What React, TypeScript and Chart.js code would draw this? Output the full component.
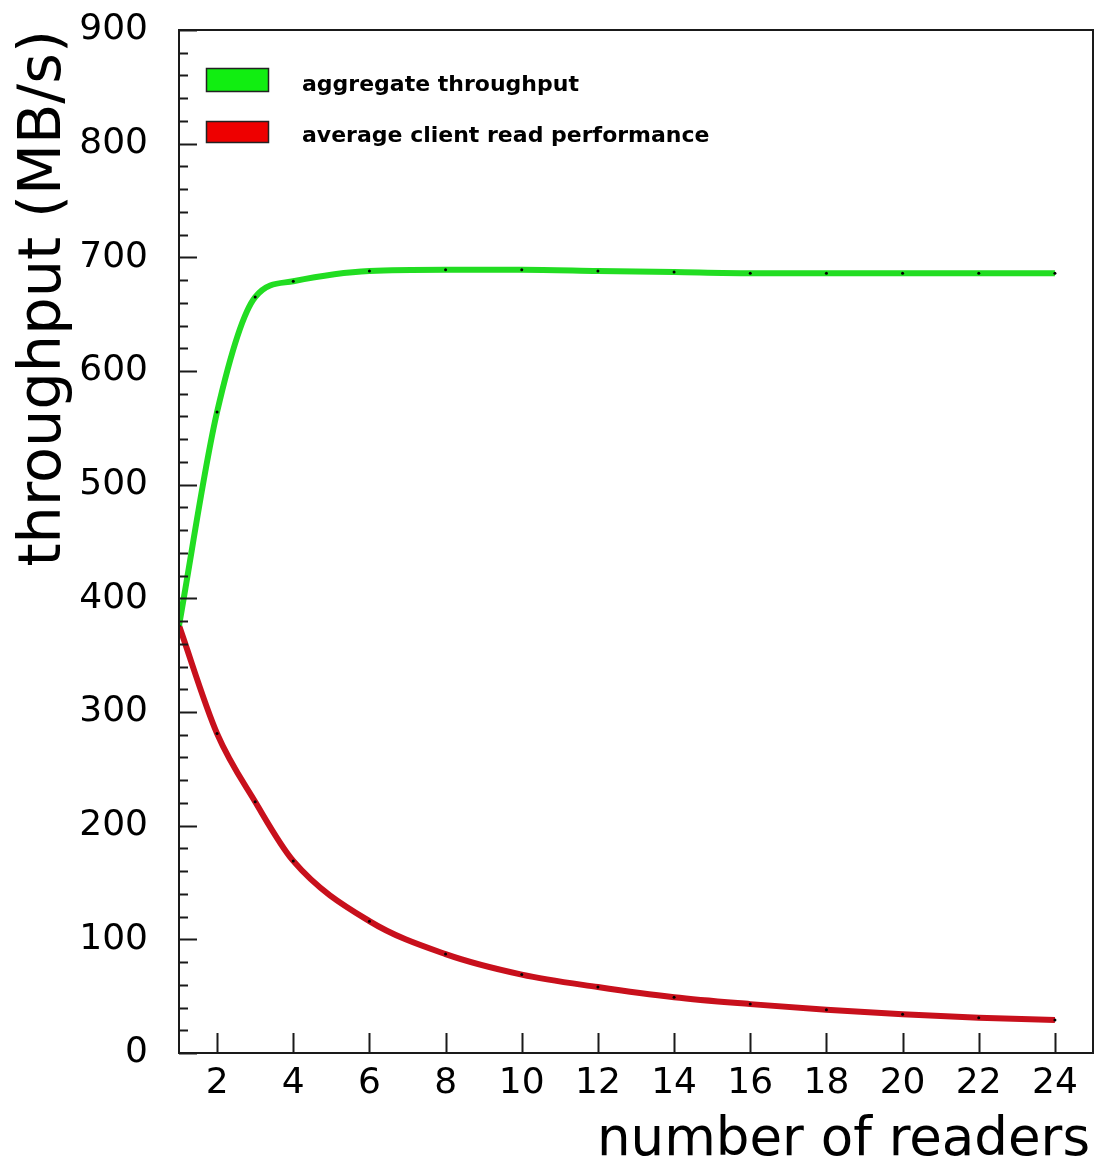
import React, { useEffect, useRef } from "react";
import { Chart, registerables } from "chart.js";

Chart.register(...registerables);

const readers = [1, 2, 3, 4, 6, 8, 10, 12, 14, 16, 18, 20, 22, 24];
const aggregateThroughput = [376, 564, 665, 679, 688, 689, 689, 688, 687, 686, 686, 686, 686, 686];
const averageClientRead = [376, 281, 221, 169, 116, 87, 69, 58, 49, 43, 38, 34, 31, 29];
const xTickValues = [2, 4, 6, 8, 10, 12, 14, 16, 18, 20, 22, 24];
const yTickValues = [0, 100, 200, 300, 400, 500, 600, 700, 800, 900];
const seriesLabels = ["aggregate throughput", "average client read performance"];
const seriesColors = ["#22dd22", "#c8101c"];
const legendFills = ["#11ee11", "#ee0000"];
const xTitle = "number of readers";
const yTitle = "throughput (MB/s)";

const FONT = "'DejaVu Sans', 'Liberation Sans', sans-serif";

const framePlugin = {
  id: "rootFrame",
  afterDraw(chart: any) {
    const ctx = chart.ctx;
    const { left, right, top, bottom } = chart.chartArea;
    const xs = chart.scales.x;
    const ys = chart.scales.y;
    ctx.save();
    ctx.strokeStyle = "#1a1a1a";
    ctx.lineWidth = 2;
    ctx.strokeRect(left, top, right - left, bottom - top);
    ctx.beginPath();
    for (let v = 0; v <= 900; v += 20) {
      const py = Math.round(ys.getPixelForValue(v)) + 0.5;
      const len = v % 100 === 0 ? 18 : 9;
      ctx.moveTo(left, py);
      ctx.lineTo(left + len, py);
    }
    for (const v of xTickValues) {
      const px = Math.round(xs.getPixelForValue(v)) + 0.5;
      ctx.moveTo(px, bottom);
      ctx.lineTo(px, bottom - 20);
    }
    ctx.stroke();

    const boxX = 206;
    const boxW = 62;
    const rows = [
      { y: 68, h: 23 },
      { y: 121, h: 21 },
    ];
    ctx.font = `bold 22px ${FONT}`;
    ctx.textAlign = "left";
    ctx.textBaseline = "alphabetic";
    rows.forEach((r, i) => {
      ctx.fillStyle = legendFills[i];
      ctx.fillRect(boxX, r.y, boxW, r.h);
      ctx.lineWidth = 1.5;
      ctx.strokeStyle = "#222";
      ctx.strokeRect(boxX + 0.5, r.y + 0.5, boxW, r.h);
      ctx.fillStyle = "#000";
      ctx.fillText(seriesLabels[i], 302, r.y + r.h - 0.5);
    });

    ctx.fillStyle = "#000";
    ctx.font = `53px ${FONT}`;
    ctx.textAlign = "right";
    ctx.textBaseline = "alphabetic";
    ctx.fillText(xTitle, 1090, 1155);

    ctx.save();
    ctx.translate(60, 30);
    ctx.rotate(-Math.PI / 2);
    ctx.font = `59px ${FONT}`;
    ctx.textAlign = "right";
    ctx.fillText(yTitle, 0, 0);
    ctx.restore();

    ctx.restore();
  },
};

export default function App() {
  const ref = useRef<HTMLCanvasElement | null>(null);
  useEffect(() => {
    if (!ref.current) return;
    const common = {
      borderWidth: 6,
      pointRadius: 1.5,
      pointBackgroundColor: "#000",
      pointBorderWidth: 0,
      cubicInterpolationMode: "monotone",
      fill: false,
    };
    const chart = new Chart(ref.current, {
      type: "line",
      data: {
        datasets: [
          {
            label: seriesLabels[0],
            data: readers.map((r, i) => ({ x: r, y: aggregateThroughput[i] })),
            borderColor: seriesColors[0],
            ...common,
          },
          {
            label: seriesLabels[1],
            data: readers.map((r, i) => ({ x: r, y: averageClientRead[i] })),
            borderColor: seriesColors[1],
            ...common,
          },
        ],
      },
      options: {
        animation: false,
        responsive: false,
        events: [],
        layout: { padding: { top: 30, right: 6, left: 0, bottom: 0 } },
        plugins: { legend: { display: false }, tooltip: { enabled: false } },
        scales: {
          x: {
            type: "linear",
            min: 1,
            max: 25,
            grid: { display: false, drawTicks: false },
            border: { display: false },
            afterBuildTicks: (s: any) => {
              s.ticks = xTickValues.map((v) => ({ value: v }));
            },
            afterFit: (s: any) => {
              s.height = 106;
              s.paddingLeft = 0;
              s.paddingRight = 0;
            },
            ticks: {
              autoSkip: false,
              maxRotation: 0,
              padding: 13,
              color: "#000",
              font: { family: FONT, size: 36, lineHeight: 1 },
            },
          },
          y: {
            type: "linear",
            min: 0,
            max: 900,
            grid: { display: false, drawTicks: false },
            border: { display: false },
            afterBuildTicks: (s: any) => {
              s.ticks = yTickValues.map((v) => ({ value: v }));
            },
            afterFit: (s: any) => {
              s.width = 179;
              s.paddingTop = 0;
              s.paddingBottom = 0;
            },
            ticks: {
              autoSkip: false,
              padding: 31,
              color: "#000",
              font: { family: FONT, size: 36, lineHeight: 1 },
            },
          },
        },
      },
      plugins: [framePlugin],
    } as any);
    return () => chart.destroy();
  }, []);
  return (
    <div style={{ position: "absolute", left: 0, top: 0, background: "#fff" }}>
      <canvas ref={ref} width={1099} height={1159} style={{ display: "block" }} />
    </div>
  );
}
